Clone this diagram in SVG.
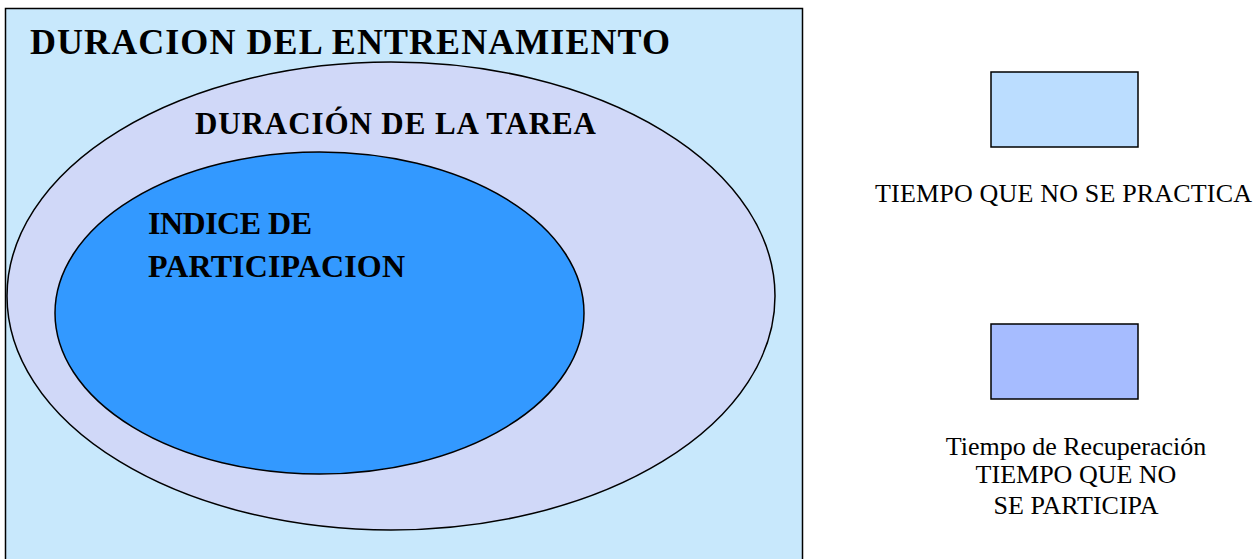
<svg xmlns="http://www.w3.org/2000/svg" width="1260" height="559" viewBox="0 0 1260 559">
<style>
.b{font-family:"Liberation Serif",serif;font-weight:bold;fill:#000}
.r{font-family:"Liberation Serif",serif;fill:#000;font-size:26px}
.s{stroke:#000;stroke-width:1.5}
</style>
<rect width="1260" height="559" fill="#fff"/>
<g id="entrenamiento">
<rect x="5.5" y="8.5" width="797" height="560" fill="#C8E8FC" class="s"/>
<text class="b" x="30" y="54" font-size="36" textLength="640" lengthAdjust="spacing">DURACION DEL ENTRENAMIENTO</text>
</g>
<g id="tarea">
<ellipse cx="391" cy="296" rx="384" ry="234" fill="#D0D8F8" class="s"/>
<text class="b" x="195" y="134" font-size="31" textLength="401" lengthAdjust="spacing">DURACIÓN DE LA TAREA</text>
</g>
<g id="participacion">
<ellipse cx="319.5" cy="313" rx="264.5" ry="161" fill="#3399FF" class="s"/>
<text class="b" x="148" y="234" font-size="32" textLength="164" lengthAdjust="spacing">INDICE DE</text>
<text class="b" x="148" y="277" font-size="32" textLength="257" lengthAdjust="spacing">PARTICIPACION</text>
</g>
<g id="legend-practica">
<rect x="991" y="72" width="147" height="75" fill="#BBDDFF" class="s"/>
<text class="r" x="875" y="202" textLength="377" lengthAdjust="spacing">TIEMPO QUE NO SE PRACTICA</text>
</g>
<g id="legend-participa">
<rect x="991" y="324" width="147" height="75" fill="#A6BCFF" class="s"/>
<text class="r" x="1076" y="455" text-anchor="middle">Tiempo de Recuperación</text>
<text class="r" x="1076" y="483" text-anchor="middle">TIEMPO QUE NO</text>
<text class="r" x="1076" y="514" text-anchor="middle">SE PARTICIPA</text>
</g>
<g id="connectors"></g>
</svg>
